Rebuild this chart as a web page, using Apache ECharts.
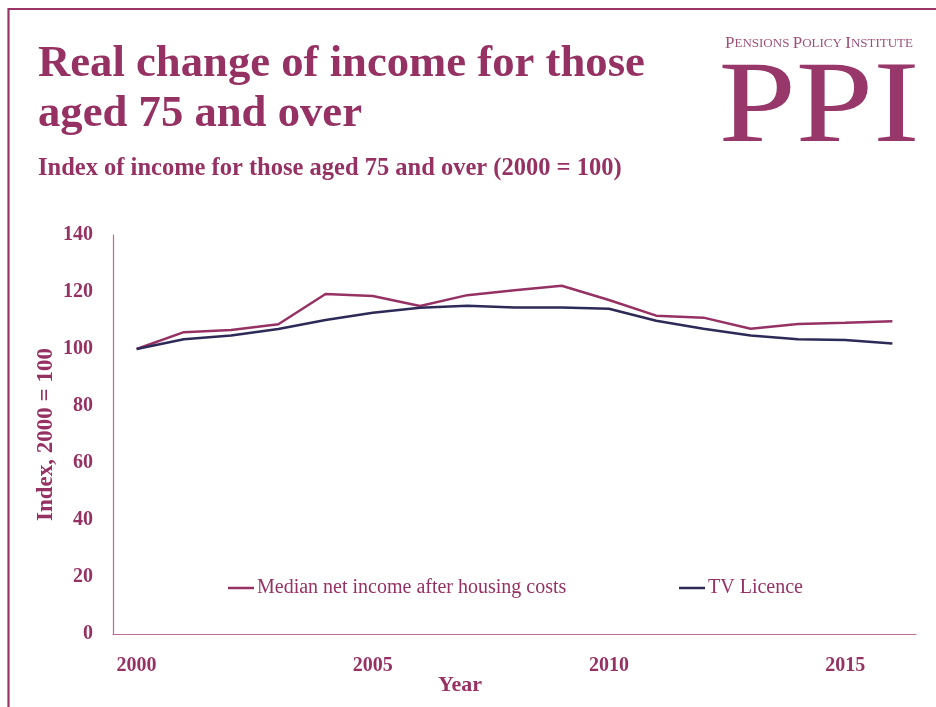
<!DOCTYPE html>
<html>
<head>
<meta charset="utf-8">
<script src="https://cdn.jsdelivr.net/npm/echarts@6/dist/echarts.min.js"></script>
<style>
  html, body { margin: 0; padding: 0; background: #ffffff; }
  #chart { width: 936px; height: 707px; }
</style>
</head>
<body>
<div id="chart"></div>
<script>
const years = ['2000','2001','2002','2003','2004','2005','2006','2007','2008','2009','2010','2011','2012','2013','2014','2015','2016'];
const medianIncomeAHC = [100, 105.9, 106.7, 108.7, 119.3, 118.6, 115.1, 118.9, 120.6, 122.2, 117.2, 111.7, 111.0, 107.1, 108.8, 109.2, 109.7];
const tvLicence = [100, 103.4, 104.7, 107.0, 110.2, 112.7, 114.5, 115.2, 114.6, 114.6, 114.1, 109.9, 107.1, 104.7, 103.4, 103.2, 101.9];
const seriesNames = ['Median net income after housing costs', 'TV Licence'];
const yTicks = { min: 0, max: 140, interval: 20 };

const PLUM = '#963263';
const NAVY = '#2D2A58';
const AXIS = '#BC6C97';
const SERIF = '"Liberation Serif", "DejaVu Serif", serif';

const chart = echarts.init(document.getElementById('chart'));
chart.setOption({
  backgroundColor: '#ffffff',
  animation: false,
  textStyle: { fontFamily: SERIF },
  grid: { left: 113, right: 20, top: 235, bottom: 73, containLabel: false },
  legend: [
    { data: [{ name: seriesNames[0], icon: 'rect' }], left: 228, top: 578, padding: 0, itemWidth: 26, itemHeight: 2.5,
      textStyle: { color: PLUM, fontSize: 20, fontFamily: SERIF, padding: [0, 0, 0, -2] } },
    { data: [{ name: seriesNames[1], icon: 'rect' }], left: 679, top: 578, padding: 0, itemWidth: 26, itemHeight: 2.5,
      textStyle: { color: PLUM, fontSize: 20, fontFamily: SERIF, padding: [0, 0, 0, -2] } }
  ],
  xAxis: {
    type: 'category',
    data: years,
    boundaryGap: true,
    axisLine: { lineStyle: { color: AXIS, width: 1.2 } },
    axisTick: { show: false },
    axisLabel: { interval: 4, color: PLUM, fontWeight: 'bold', fontSize: 20, margin: 22, fontFamily: SERIF },
    splitLine: { show: false }
  },
  yAxis: {
    type: 'value',
    min: yTicks.min, max: yTicks.max, interval: yTicks.interval,
    name: 'Index, 2000 = 100',
    nameLocation: 'middle',
    nameRotate: 90,
    nameGap: 55,
    nameMoveOverlap: false,
    nameTextStyle: { color: PLUM, fontWeight: 'bold', fontSize: 23, fontFamily: SERIF },
    axisLine: { show: true, lineStyle: { color: AXIS, width: 1.2 } },
    axisTick: { show: false },
    axisLabel: { color: PLUM, fontWeight: 'bold', fontSize: 20, margin: 20, fontFamily: SERIF },
    splitLine: { show: false }
  },
  series: [
    { name: seriesNames[0], type: 'line', data: medianIncomeAHC, symbol: 'none',
      lineStyle: { color: PLUM, width: 2.5 }, itemStyle: { color: PLUM } },
    { name: seriesNames[1], type: 'line', data: tvLicence, symbol: 'none',
      lineStyle: { color: NAVY, width: 2.5 }, itemStyle: { color: NAVY } }
  ],
  graphic: [
    { type: 'polyline', shape: { points: [[8.5, 707], [8.5, 9], [936, 9]] },
      style: { stroke: '#9A3566', lineWidth: 2.2, fill: null } },
    { type: 'text', x: 38, y: 64.5,
      style: { text: 'Real change of income for those', fill: PLUM, font: 'bold 44.7px ' + SERIF, verticalAlign: 'middle' } },
    { type: 'text', x: 38, y: 114.5,
      style: { text: 'aged 75 and over', fill: PLUM, font: 'bold 44.7px ' + SERIF, verticalAlign: 'middle' } },
    { type: 'text', x: 38, y: 169,
      style: { text: 'Index of income for those aged 75 and over (2000 = 100)', fill: PLUM,
        font: 'bold 24.5px ' + SERIF, verticalAlign: 'middle' } },
    { type: 'text', x: 460, y: 685, style: { text: 'Year', fill: PLUM, font: 'bold 22px ' + SERIF, align: 'center', verticalAlign: 'middle' } },
    { type: 'text', x: 819, y: 44,
      style: { text: '{a|P}{b|ENSIONS} {a|P}{b|OLICY} {a|I}{b|NSTITUTE}', align: 'center', verticalAlign: 'middle',
        rich: { a: { fontSize: 17, fontFamily: SERIF, fill: '#9E4F78', color: '#9E4F78' },
                b: { fontSize: 13, fontFamily: SERIF, fill: '#9E4F78', color: '#9E4F78' } } } },
    { type: 'text', x: 819, y: 111, scaleX: 1.2,
      style: { text: 'PPI', fill: '#983769', font: '116px ' + SERIF, align: 'center', verticalAlign: 'middle' } }
  ]
});
</script>
</body>
</html>
